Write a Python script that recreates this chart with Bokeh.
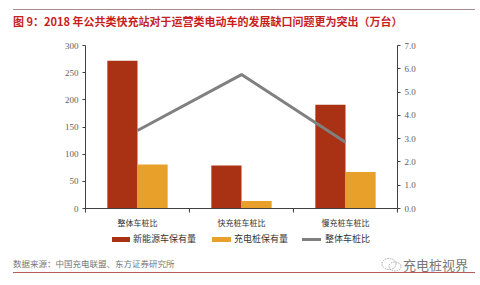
from bokeh.plotting import figure
from bokeh.models import Range1d, LinearAxis, FixedTicker, NumeralTickFormatter, Div
from bokeh.layouts import column
from bokeh.embed import file_html
from bokeh.resources import INLINE

categories = ["整体车桩比", "快充桩车桩比", "慢充桩车桩比"]
nev_stock = [272, 79, 191]        # 新能源车保有量
charger_stock = [81, 14, 67]      # 充电桩保有量
ratio = [3.35, 5.75, 2.85]        # 整体车桩比
series_names = ["新能源车保有量", "充电桩保有量", "整体车桩比"]
left_ticks = [0, 50, 100, 150, 200, 250, 300]
right_ticks = [0, 1, 2, 3, 4, 5, 6, 7]

title_text = "图 9：2018 年公共类快充站对于运营类电动车的发展缺口问题更为突出（万台）"
source_text = "数据来源：中国充电联盟、东方证券研究所"
mark_text = "充电桩视界"

RED = "#A93114"
ORANGE = "#E8A02A"
GRAY = "#808080"
AXIS = "#404040"
TICK = "#606060"
CJK = "Noto Sans CJK SC"
SERIF = "Liberation Serif"

W = 480
TOP_H, FIG_H = 30, 206
BOT_H = 285 - TOP_H - FIG_H
FL, FR = 85, 397          # frame left/right in canvas px
FT, FB = 45, 208          # frame top/bottom in canvas px
B0 = TOP_H + FIG_H        # canvas y where bottom area starts

top_div = Div(width=W, height=TOP_H, margin=(0, 0, 0, 0), text=(
    '<div style="position:relative;width:480px;height:30px;">'
    '<div style="position:absolute;left:13px;top:9px;width:462px;height:0;'
    'border-top:1px solid #A58C8C;"></div>'
    '<div style="position:absolute;left:13px;top:14px;white-space:nowrap;'
    "font-family:'Noto Sans CJK SC';font-size:11px;font-weight:bold;"
    'line-height:14px;color:#C81E1E;">' + title_text + '</div></div>'))

p = figure(width=W, height=FIG_H, output_backend="svg", toolbar_location=None,
           x_range=Range1d(0, len(categories)), y_range=Range1d(0, 300),
           min_border_left=FL, min_border_right=W - FR,
           min_border_top=FT - TOP_H, min_border_bottom=B0 - FB,
           margin=(0, 0, 0, 0))
p.outline_line_color = None
p.xgrid.visible = False
p.ygrid.visible = False

idx = list(range(len(categories)))
centers = [i + 0.5 for i in idx]
bw = 0.29
red_x = [c - bw / 2 for c in centers]
org_x = [c + bw / 2 for c in centers]

p.vbar(x=red_x, top=nev_stock, width=bw, fill_color=RED, line_color=None)
p.vbar(x=org_x, top=charger_stock, width=bw, fill_color=ORANGE, line_color=None)

p.extra_y_ranges = {"r": Range1d(0, 7)}
p.line(centers, ratio, y_range_name="r", line_color=GRAY, line_width=3)

# x axis
xa = p.xaxis[0]
xa.ticker = FixedTicker(ticks=centers, minor_ticks=[float(i) for i in range(len(categories) + 1)])
xa.major_label_overrides = {c: lab for c, lab in zip(centers, categories)}
xa.major_tick_in = 0
xa.major_tick_out = 0
xa.minor_tick_in = 0
xa.minor_tick_out = 4
xa.minor_tick_line_color = AXIS
xa.axis_line_color = AXIS
xa.major_label_text_font = CJK
xa.major_label_text_font_size = "8px"
xa.major_label_text_color = "#333333"
xa.major_label_standoff = 4

# left axis
ya = p.yaxis[0]
ya.ticker = FixedTicker(ticks=left_ticks)
ya.minor_tick_line_color = None
ya.major_tick_in = 0
ya.major_tick_out = 3
ya.major_tick_line_color = AXIS
ya.axis_line_color = AXIS
ya.major_label_text_font = SERIF
ya.major_label_text_font_size = "9px"
ya.major_label_text_color = TICK
ya.major_label_standoff = 4

# right axis
ra = LinearAxis(y_range_name="r", ticker=FixedTicker(ticks=right_ticks),
                formatter=NumeralTickFormatter(format="0.0"))
ra.minor_tick_line_color = None
ra.major_tick_in = 0
ra.major_tick_out = 3
ra.major_tick_line_color = AXIS
ra.axis_line_color = AXIS
ra.major_label_text_font = SERIF
ra.major_label_text_font_size = "9px"
ra.major_label_text_color = TICK
ra.major_label_standoff = 4
p.add_layout(ra, "right")

# bottom area: legend, source, watermark, rule (positions given in canvas y)
def swatch(left, top, w, h, color):
    return ('<div style="position:absolute;left:%dpx;top:%spx;width:%dpx;height:%spx;'
            'background:%s;"></div>' % (left, top - B0, w, h, color))

def label(left, top, text, size, color, lh):
    return ('<div style="position:absolute;left:%dpx;top:%spx;white-space:nowrap;'
            "font-family:'Noto Sans CJK SC';font-size:%spx;line-height:%dpx;color:%s;\">%s</div>"
            % (left, top - B0, size, lh, color, text))

legend_html = (swatch(112, 236.5, 18, 5, RED) + label(133, 233, series_names[0], 9, "#333", 12)
               + swatch(212, 236.5, 19, 5, ORANGE) + label(234, 233, series_names[1], 9, "#333", 12)
               + swatch(302, 237.5, 19, 3, GRAY) + label(325, 233, series_names[2], 9, "#333", 12))

wechat_svg = (
    '<svg style="position:absolute;left:381px;top:%dpx;" width="22" height="16" viewBox="0 0 22 16">'
    '<ellipse cx="8" cy="7" rx="7" ry="5.5" fill="none" stroke="#aaa" stroke-width="1" stroke-dasharray="1.5 1"/>'
    '<ellipse cx="14" cy="9.5" rx="6" ry="4.5" fill="none" stroke="#aaa" stroke-width="1" stroke-dasharray="1.5 1"/>'
    '</svg>') % (257 - B0)

bot_div = Div(width=W, height=BOT_H, margin=(0, 0, 0, 0), text=(
    '<div style="position:relative;width:480px;height:%dpx;">' % BOT_H
    + legend_html
    + label(13, 257, source_text, 8.5, "#777", 12)
    + wechat_svg
    + label(403, 256, mark_text, 13, "#777", 17)
    + '<div style="position:absolute;left:13px;top:%dpx;width:462px;height:0;'
    'border-top:1px solid #B85C5C;"></div></div>' % (272 - B0)))

layout = column(top_div, p, bot_div, spacing=0, margin=(0, 0, 0, 0))

open("out.html", "w").write(file_html(layout, INLINE))
